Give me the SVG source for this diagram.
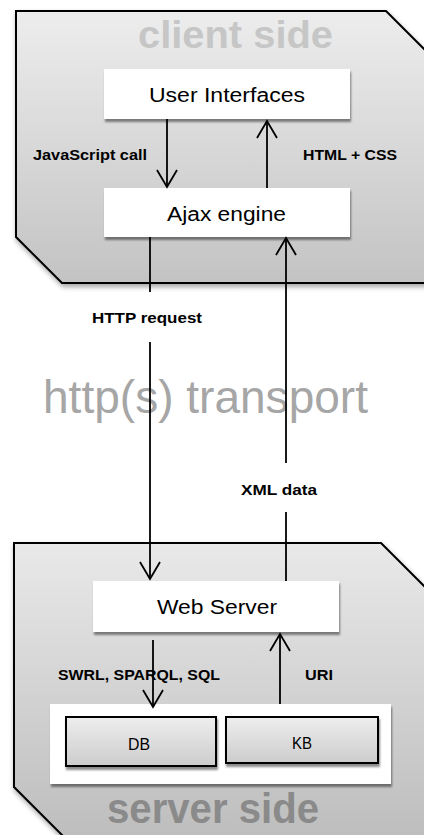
<svg xmlns="http://www.w3.org/2000/svg" width="424" height="835" viewBox="0 0 424 835">
<style>
.panel{stroke:#000;stroke-width:2;stroke-linejoin:miter}
.box{fill:#fff}
.inner{stroke:#000;stroke-width:2;fill:url(#gInner)}
.t{font-family:"Liberation Sans",Arial,sans-serif;fill:#000}
.node{font-size:20px;text-anchor:start}
.small{font-size:16px}
.lbl{font-size:15px;font-weight:bold}
.big{font-weight:bold}
.conn{stroke:#000;stroke-width:1.8;fill:none}
</style>
<defs>
<linearGradient id="gClient" x1="0" y1="0" x2="0" y2="1">
<stop offset="0" stop-color="#ededed"/>
<stop offset="1" stop-color="#c3c3c3"/>
</linearGradient>
<linearGradient id="gServer" x1="0" y1="0" x2="0" y2="1">
<stop offset="0" stop-color="#e9e9e9"/>
<stop offset="1" stop-color="#bababa"/>
</linearGradient>
<linearGradient id="gInner" x1="0" y1="0" x2="0" y2="1">
<stop offset="0" stop-color="#eeeeee"/>
<stop offset="1" stop-color="#cccccc"/>
</linearGradient>
<filter id="shPanel" x="-10%" y="-10%" width="130%" height="130%">
<feDropShadow dx="1" dy="3" stdDeviation="2.5" flood-color="#000" flood-opacity="0.35"/>
</filter>
<filter id="shBox" x="-10%" y="-10%" width="130%" height="140%">
<feDropShadow dx="1" dy="3" stdDeviation="1" flood-color="#000" flood-opacity="0.45"/>
</filter>
<marker id="arr" markerUnits="userSpaceOnUse" markerWidth="40" markerHeight="40" refX="0" refY="0" orient="auto" viewBox="-20 -20 40 40" overflow="visible">
<path d="M-17,-10 L0,0 L-17,10" fill="none" stroke="#000" stroke-width="1.8"/>
</marker>
</defs>

<g id="client-panel">
<path class="panel" d="M16,11 L386,11 L432,57 L432,283 L62,283 L16,237 Z" fill="url(#gClient)" filter="url(#shPanel)"/>
<text class="t big" x="138" y="48" font-size="38" fill="#c6c6c6" style="fill:#c6c6c6" textLength="195" lengthAdjust="spacingAndGlyphs">client side</text>
</g>

<g id="server-panel">
<path class="panel" d="M14,543 L381,543 L432,594 L432,860 L87,860 L14,787 Z" fill="url(#gServer)" filter="url(#shPanel)"/>
<text class="t big" x="107" y="823" font-size="42" style="fill:#8a8a8a" textLength="212" lengthAdjust="spacingAndGlyphs">server side</text>
</g>

<g id="user-interfaces">
<rect class="box" x="104" y="69" width="246" height="50" filter="url(#shBox)"/>
<text class="t node" x="149" y="101.5" textLength="156" lengthAdjust="spacingAndGlyphs">User Interfaces</text>
</g>

<g id="ajax-engine">
<rect class="box" x="104" y="188" width="246" height="49" filter="url(#shBox)"/>
<text class="t node" x="167" y="221" textLength="119" lengthAdjust="spacingAndGlyphs">Ajax engine</text>
</g>

<g id="web-server">
<rect class="box" x="93" y="581" width="246" height="51" filter="url(#shBox)"/>
<text class="t node" x="157" y="614" textLength="120" lengthAdjust="spacingAndGlyphs">Web Server</text>
</g>

<g id="storage">
<rect class="box" x="50" y="704" width="341" height="80" filter="url(#shBox)"/>
</g>

<g id="db">
<rect class="inner" x="66" y="717" width="150" height="49" filter="url(#shBox)"/>
<text class="t small" x="128" y="750" textLength="22" lengthAdjust="spacingAndGlyphs">DB</text>
</g>

<g id="kb">
<rect class="inner" x="226" y="717" width="152" height="46" filter="url(#shBox)"/>
<text class="t small" x="292" y="748.5" textLength="20" lengthAdjust="spacingAndGlyphs">KB</text>
</g>

<g id="transport">
<text class="t" x="43" y="413" font-size="46" style="fill:#a6a6a6" textLength="325" lengthAdjust="spacingAndGlyphs">http(s) transport</text>
</g>

<g id="connectors">
<line class="conn" x1="167" y1="119" x2="167" y2="187" marker-end="url(#arr)"/>
<line class="conn" x1="267" y1="188" x2="267" y2="121" marker-end="url(#arr)"/>
<line class="conn" x1="150" y1="237" x2="150" y2="579" marker-end="url(#arr)"/>
<line class="conn" x1="286" y1="581" x2="286" y2="238" marker-end="url(#arr)"/>
<line class="conn" x1="153" y1="640" x2="153" y2="707" marker-end="url(#arr)"/>
<line class="conn" x1="280" y1="704" x2="280" y2="634" marker-end="url(#arr)"/>
</g>

<g id="labels">
<text class="t lbl" x="33" y="160" textLength="114" lengthAdjust="spacingAndGlyphs">JavaScript call</text>
<text class="t lbl" x="303" y="160" textLength="94" lengthAdjust="spacingAndGlyphs">HTML + CSS</text>
<rect x="70" y="292" width="167" height="50" fill="#fff"/>
<text class="t lbl" x="92" y="323" textLength="110" lengthAdjust="spacingAndGlyphs">HTTP request</text>
<rect x="215" y="463" width="130" height="49" fill="#fff"/>
<text class="t lbl" x="241" y="495" textLength="76" lengthAdjust="spacingAndGlyphs">XML data</text>
<text class="t lbl" x="58" y="680" textLength="162" lengthAdjust="spacingAndGlyphs">SWRL, SPARQL, SQL</text>
<text class="t lbl" x="305" y="680" textLength="28" lengthAdjust="spacingAndGlyphs">URI</text>
</g>
</svg>
